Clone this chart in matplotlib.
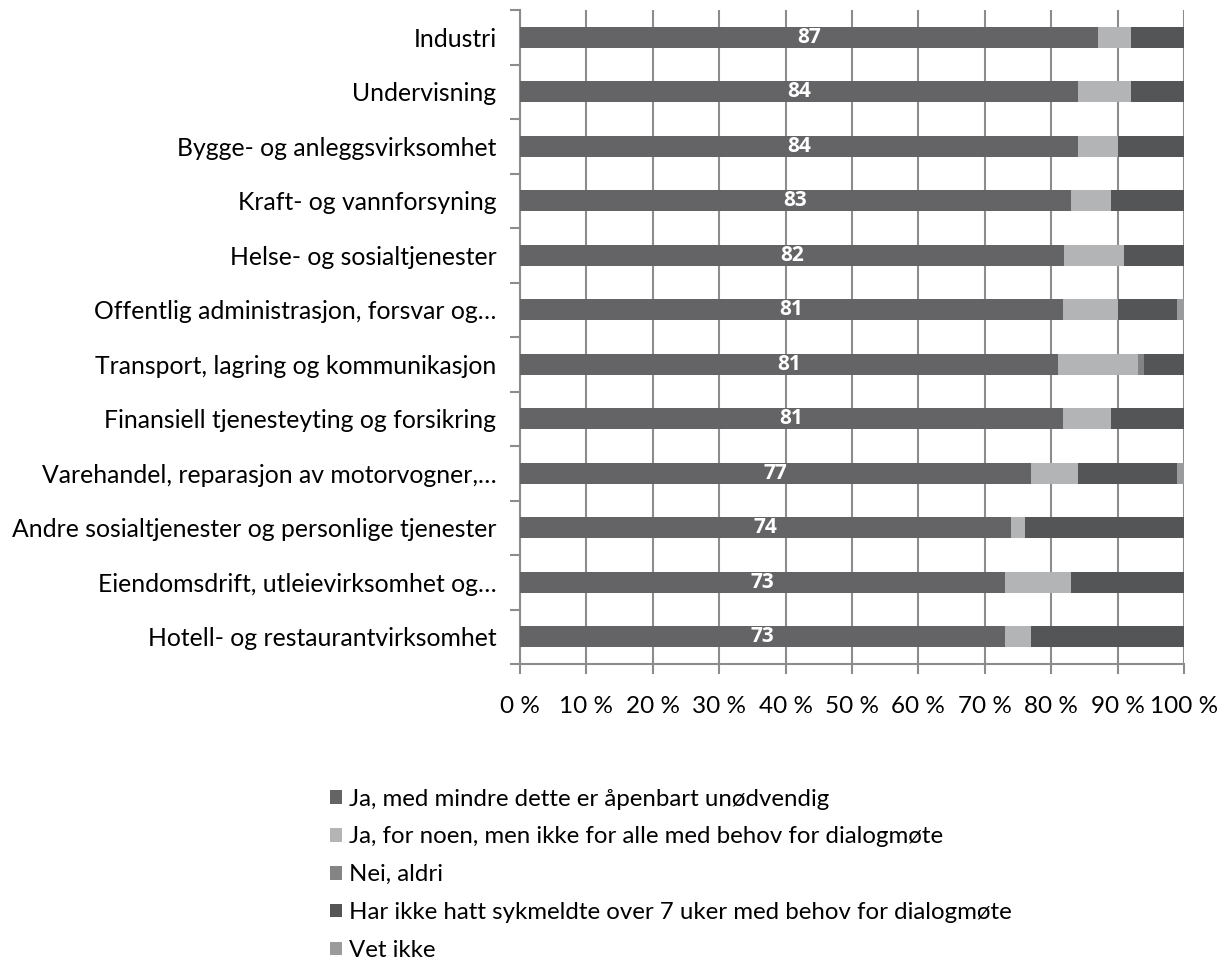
import matplotlib
matplotlib.use("Agg")
from matplotlib import pyplot as plt
from matplotlib.patches import Patch
import numpy as np

plt.rcParams['font.family'] = ['Lato', 'DejaVu Sans']

categories = ['Industri', 'Undervisning', 'Bygge- og anleggsvirksomhet',
              'Kraft- og vannforsyning', 'Helse- og sosialtjenester',
              'Offentlig administrasjon, forsvar og…',
              'Transport, lagring og kommunikasjon',
              'Finansiell tjenesteyting og forsikring',
              'Varehandel, reparasjon av motorvogner,…',
              'Andre sosialtjenester og personlige tjenester',
              'Eiendomsdrift, utleievirksomhet og…',
              'Hotell- og restaurantvirksomhet']
ja = [87, 84, 84, 83, 82, 81.8, 81, 81.8, 77, 74, 73, 73]
noen = [5, 8, 6, 6, 9, 8.2, 12, 7.2, 7, 2, 10, 4]
nei = [0, 0, 0, 0, 0, 0, 1, 0, 0, 0, 0, 0]
har_ikke = [8, 8, 10, 11, 9, 9, 6, 11, 15, 24, 17, 23]
vet_ikke = [0, 0, 0, 0, 0, 1, 0, 0, 1, 0, 0, 0]
bar_labels = ['87', '84', '84', '83', '82', '81', '81', '81', '77', '74', '73', '73']

series = [ja, noen, nei, har_ikke, vet_ikke]
names = ['Ja, med mindre dette er åpenbart unødvendig',
         'Ja, for noen, men ikke for alle med behov for dialogmøte',
         'Nei, aldri',
         'Har ikke hatt sykmeldte over 7 uker med behov for dialogmøte',
         'Vet ikke']
colors = ['#646466', '#b3b4b6', '#838486', '#545557', '#9a9b9d']

fig = plt.figure(figsize=(12.27, 9.63), dpi=100)
ax = fig.add_axes([520 / 1227, 1 - 664 / 963, 664 / 1227, 654 / 963])

y = np.arange(len(categories))
left = np.zeros(len(categories))
for vals, c in zip(series, colors):
    vals = np.array(vals, dtype=float)
    ax.barh(y, vals, left=left, height=0.39, color=c, zorder=3)
    left += vals

for i, lab in enumerate(bar_labels):
    ax.text(ja[i] / 2, y[i], lab, color='white', fontweight='bold',
            family=['Open Sans', 'DejaVu Sans'],
            fontsize=15, ha='center', va='center', zorder=4)

ax.set_xlim(0, 100)
ax.set_ylim(len(categories) - 0.5, -0.5)
ax.set_xticks(np.arange(0, 101, 10))
ax.set_xticklabels(['{} %'.format(v) for v in range(0, 101, 10)], fontsize=17.5)
ax.set_yticks(y)
ax.set_yticklabels(categories, fontsize=17.8)
ax.set_yticks(np.arange(-0.5, len(categories), 1), minor=True)
ax.tick_params(axis='y', which='major', length=0, pad=17)
ax.tick_params(axis='y', which='minor', length=7, color='#8c8c8c', width=1.5)
ax.tick_params(axis='x', length=7, color='#8c8c8c', width=1.5, pad=16)
ax.grid(axis='x', color='#8c8c8c', linewidth=1.5, zorder=0)
for s in ['top', 'right']:
    ax.spines[s].set_visible(False)
for s in ['left', 'bottom']:
    ax.spines[s].set_color('#8c8c8c')
    ax.spines[s].set_linewidth(1.5)

handles = [Patch(facecolor=c, edgecolor='none') for c in colors]
fig.legend(handles, names, loc='upper left', bbox_to_anchor=(308 / 1227, 1 - 767 / 963),
           frameon=False, fontsize=17.3, handlelength=0.5, handleheight=0.5,
           handletextpad=0.3, labelspacing=0.7)

fig.savefig('out.png', dpi=100)
